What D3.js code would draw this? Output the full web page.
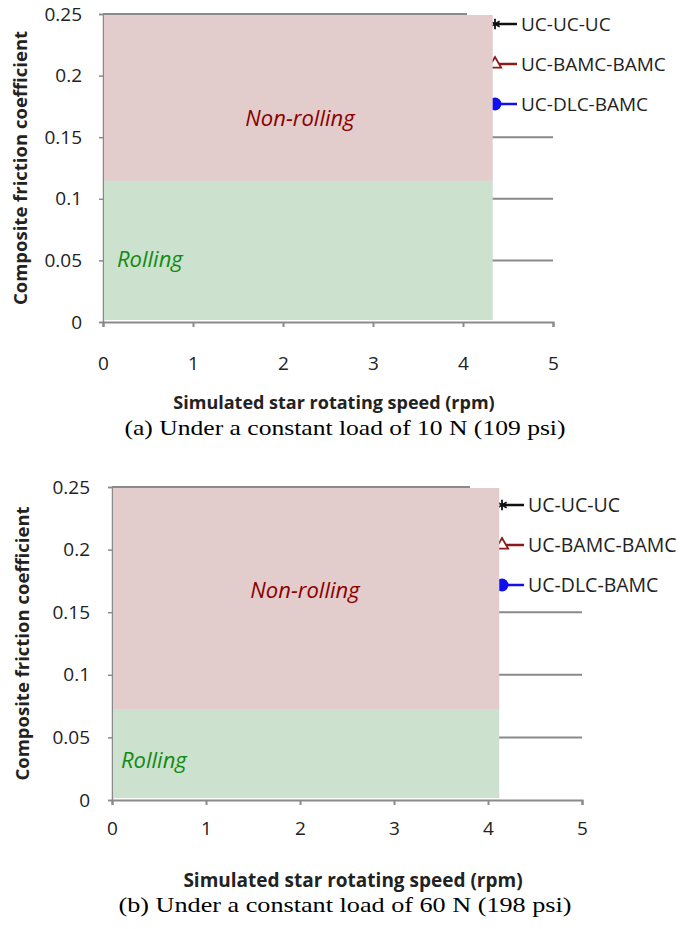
<!DOCTYPE html>
<html>
<head>
<meta charset="utf-8">
<script src="https://cdn.jsdelivr.net/npm/d3@7"></script>
<style>
  body { margin: 0; background: #fff; }
  svg { display: block; }
</style>
</head>
<body>
<div id="chart"></div>
<script>
// Data
const xTicks = [0, 1, 2, 3, 4, 5];
const yTicks = [0, 0.05, 0.1, 0.15, 0.2, 0.25];
const seriesNames = ['UC-UC-UC', 'UC-BAMC-BAMC', 'UC-DLC-BAMC'];
const panelCaptions = [
  '(a) Under a constant load of 10 N (109 psi)',
  '(b) Under a constant load of 60 N (198 psi)',
];
const rollingLimit = [0.1145, 0.072];   // friction coefficient at rolling / non-rolling boundary
const regionSpeedMax = [4.33, 4.12];    // rpm where the shaded regions stop

const PINK = '#e2cdcc';
const GREEN = '#cce2ce';
const AXIS_GRAY = '#8a8a8a';
const LABEL_FONT = '"Open Sans", "Noto Sans", sans-serif';

const seriesStyle = [
  { color: '#111', marker: 'star' },
  { color: '#8b1a1a', marker: 'triangle' },
  { color: '#1010ee', marker: 'circle' },
];

// Layout per panel (pixel frame of the plot area)
const panels = [
  { left: 103, right: 553, top: 14, bottom: 322, legendX: 495, legendY: [24, 64, 104], legendBoxLeft: 467,
    legendFont: 19, nonRolling: [300, 118], rolling: [117, 259], yTitleX: 21, xTitleY: 409, xTitleFont: 18,
    captionY: 435, captionLen: 441, tickLabelX: 82, xTickPad: 30 },
  { left: 112, right: 582, top: 487, bottom: 800, legendX: 502, legendY: [505, 545, 585], legendBoxLeft: 470,
    legendFont: 19.5, nonRolling: [305, 590], rolling: [121, 760], yTitleX: 23, xTitleY: 887, xTitleFont: 19,
    captionY: 912, captionLen: 453, tickLabelX: 90, xTickPad: 17 },
];

const svg = d3.select('#chart')
  .append('svg')
  .attr('width', 689)
  .attr('height', 929);

panels.forEach((p, i) => {
  const g = svg.append('g');

  const x = d3.scaleLinear().domain([0, 5]).range([p.left, p.right]);
  const y = d3.scaleLinear().domain([0, 0.25]).range([p.bottom, p.top]);

  // Gridlines
  g.selectAll('.grid')
    .data(yTicks.filter((d) => d > 0))
    .enter()
    .append('line')
    .attr('x1', x(0))
    .attr('x2', x(5))
    .attr('y1', (d) => y(d))
    .attr('y2', (d) => y(d))
    .attr('stroke', AXIS_GRAY)
    .attr('stroke-width', 2);

  // x axis
  const xAxis = g.append('g')
    .attr('transform', `translate(0,${y(0)})`)
    .call(d3.axisBottom(x).tickValues(xTicks).tickSize(5).tickPadding(p.xTickPad).tickFormat(d3.format('d')));
  xAxis.select('.domain').attr('stroke', AXIS_GRAY).attr('stroke-width', 2);
  xAxis.selectAll('.tick line').attr('stroke', AXIS_GRAY).attr('stroke-width', 2);
  xAxis.selectAll('.tick text')
    .attr('font-family', LABEL_FONT)
    .attr('font-size', 19)
    .attr('fill', '#222');

  // y axis
  const yAxis = g.append('g')
    .attr('transform', `translate(${x(0)},0)`)
    .call(d3.axisLeft(y).tickValues(yTicks).tickSize(4).tickPadding(p.left - p.tickLabelX - 4).tickFormat((d) => String(+d.toFixed(2))));
  yAxis.select('.domain').attr('stroke', AXIS_GRAY).attr('stroke-width', 1.5);
  yAxis.selectAll('.tick line').attr('stroke', AXIS_GRAY).attr('stroke-width', 1.5);
  yAxis.selectAll('.tick text')
    .attr('font-family', LABEL_FONT)
    .attr('font-size', 19)
    .attr('fill', '#222');

  // Legend box (covers the gridlines on the right)
  g.append('rect')
    .attr('x', p.legendBoxLeft)
    .attr('y', p.top - 12)
    .attr('width', 689 - p.legendBoxLeft)
    .attr('height', p.legendY[2] - p.top + 24)
    .attr('fill', '#fff');

  const legend = g.selectAll('.legend-item')
    .data(seriesNames)
    .enter()
    .append('g')
    .attr('transform', (d, k) => `translate(${p.legendX},${p.legendY[k]})`);

  legend.append('line')
    .attr('x1', 0)
    .attr('x2', 22)
    .attr('stroke', (d, k) => seriesStyle[k].color)
    .attr('stroke-width', 2.5);

  legend.each(function (d, k) {
    const s = seriesStyle[k];
    const sel = d3.select(this);
    if (s.marker === 'star') {
      sel.append('path')
        .attr('d', d3.symbol(d3.symbolAsterisk, 80)())
        .attr('stroke', s.color)
        .attr('stroke-width', 1.8)
        .attr('fill', 'none');
    } else if (s.marker === 'triangle') {
      sel.append('path')
        .attr('d', d3.symbol(d3.symbolTriangle, 65)())
        .attr('stroke', s.color)
        .attr('stroke-width', 1.8)
        .attr('fill', '#fff');
    } else {
      sel.append('circle')
        .attr('r', 6.5)
        .attr('fill', s.color);
    }
  });

  legend.append('text')
    .attr('x', 26)
    .attr('dy', '0.35em')
    .attr('font-family', LABEL_FONT)
    .attr('font-size', p.legendFont)
    .attr('fill', '#222')
    .text((d) => d);

  // Shaded regions drawn over everything
  g.append('rect')
    .attr('x', x(0) + 1)
    .attr('y', y(0.25) + 1)
    .attr('width', x(regionSpeedMax[i]) - x(0) - 1)
    .attr('height', y(rollingLimit[i]) - y(0.25) - 1)
    .attr('fill', PINK);

  g.append('rect')
    .attr('x', x(0) + 1)
    .attr('y', y(rollingLimit[i]))
    .attr('width', x(regionSpeedMax[i]) - x(0) - 1)
    .attr('height', y(0) - y(rollingLimit[i]) - 2)
    .attr('fill', GREEN);

  g.append('text')
    .attr('x', p.nonRolling[0])
    .attr('y', p.nonRolling[1])
    .attr('dy', '0.35em')
    .attr('text-anchor', 'middle')
    .attr('font-family', LABEL_FONT)
    .attr('font-style', 'italic')
    .attr('font-size', 22)
    .attr('fill', '#8b0000')
    .text('Non-rolling');

  g.append('text')
    .attr('x', p.rolling[0])
    .attr('y', p.rolling[1])
    .attr('dy', '0.35em')
    .attr('font-family', LABEL_FONT)
    .attr('font-style', 'italic')
    .attr('font-size', 22)
    .attr('fill', '#138a13')
    .text('Rolling');

  // Axis titles
  g.append('text')
    .attr('transform', `translate(${p.yTitleX},${(y(0) + y(0.25)) / 2}) rotate(-90)`)
    .attr('text-anchor', 'middle')
    .attr('dy', '0.35em')
    .attr('font-family', LABEL_FONT)
    .attr('font-weight', 'bold')
    .attr('font-size', 18.5)
    .attr('fill', '#222')
    .text('Composite friction coefficient');

  g.append('text')
    .attr('x', (x(0) + x(5)) / 2 + 6)
    .attr('y', p.xTitleY)
    .attr('text-anchor', 'middle')
    .attr('font-family', LABEL_FONT)
    .attr('font-weight', 'bold')
    .attr('font-size', p.xTitleFont)
    .attr('fill', '#222')
    .text('Simulated star rotating speed (rpm)');

  // Caption
  g.append('text')
    .attr('x', 345 - p.captionLen / 2)
    .attr('y', p.captionY)
    .attr('font-family', '"Liberation Serif", "DejaVu Serif", serif')
    .attr('font-size', 22)
    .attr('textLength', p.captionLen)
    .attr('lengthAdjust', 'spacingAndGlyphs')
    .attr('fill', '#000')
    .text(panelCaptions[i]);
});
</script>
</body>
</html>
